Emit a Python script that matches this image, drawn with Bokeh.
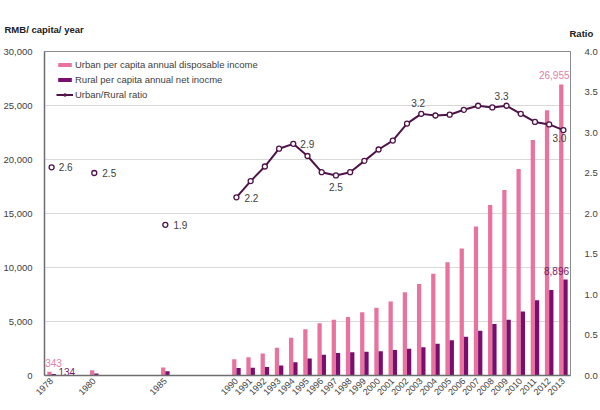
import math
from bokeh.plotting import figure
from bokeh.models import (FactorRange, Range1d, LinearAxis, NumeralTickFormatter,
                          Legend, LegendItem, ColumnDataSource, Label,
                          SingleIntervalTicker)
from bokeh.transform import dodge
from bokeh.core.properties import value
from bokeh.embed import file_html
from bokeh.resources import INLINE

# ---------------- data ----------------
years = ["1978", "1980", "1985"] + [str(y) for y in range(1990, 2014)]
urban = [343, 478, 739,
         1510, 1701, 2027, 2577, 3496, 4283, 4839, 5160, 5425, 5854, 6280, 6860,
         7703, 8472, 9422, 10493, 11760, 13786, 15781, 17175, 19109, 21810, 24565, 26955]
rural = [134, 191, 398,
         686, 709, 784, 922, 1221, 1578, 1926, 2090, 2162, 2210, 2253, 2366,
         2476, 2622, 2936, 3255, 3587, 4140, 4761, 5153, 5919, 6977, 7917, 8896]
ratio = [2.57, 2.50, 1.86,
         2.20, 2.40, 2.58, 2.80, 2.86, 2.71, 2.51, 2.47, 2.51, 2.65, 2.79, 2.90,
         3.11, 3.23, 3.21, 3.22, 3.28, 3.33, 3.31, 3.33, 3.23, 3.13, 3.10, 3.03]
series_names = ["Urban per capita annual disposable income",
                "Rural per capita annual net inocme",
                "Urban/Rural ratio"]
left_title = "RMB/ capita/ year"
right_title = "Ratio"

# empty category slots after some years (as in the original layout)
gaps_after = {"1978": 2, "1980": 4, "1985": 4}
factors = []
k = 0
for y in years:
    factors.append(y)
    for _ in range(gaps_after.get(y, 0)):
        k += 1
        factors.append(" " * k)

FONT = "Liberation Sans"
PINK = "#E8739F"
PURPLE = "#7A0E6F"
LINE = "#4E1249"
TXT = "#404040"

p = figure(width=600, height=410, x_range=FactorRange(*factors, range_padding=0),
           y_range=Range1d(0, 30000), output_backend="svg", toolbar_location=None,
           min_border_left=40, min_border_right=24, min_border_top=51, min_border_bottom=35)
p.extra_y_ranges = {"ratio": Range1d(0, 4)}
p.outline_line_color = "#8C8C8C"
p.background_fill_color = "white"

src = ColumnDataSource(dict(x=years, urban=urban, rural=rural, ratio=ratio))
line_src = ColumnDataSource(dict(x=years[3:], ratio=ratio[3:]))

ub = p.vbar(x=dodge("x", -0.15, range=p.x_range), top="urban", width=0.3, source=src,
            fill_color=PINK, line_color=None)
rb = p.vbar(x=dodge("x", 0.15, range=p.x_range), top="rural", width=0.3, source=src,
            fill_color=PURPLE, line_color=None)
ln = p.line(x="x", y="ratio", source=line_src, y_range_name="ratio",
            line_color=LINE, line_width=2)
sc = p.scatter(x="x", y="ratio", source=src, y_range_name="ratio", size=5,
               fill_color="white", line_color=LINE, line_width=1.3)

# axes
ax = p.yaxis[0]
ax.ticker = SingleIntervalTicker(interval=5000)
ax.formatter = NumeralTickFormatter(format="0,0")
right = LinearAxis(y_range_name="ratio", ticker=SingleIntervalTicker(interval=0.5),
                   formatter=NumeralTickFormatter(format="0.0"))
p.add_layout(right, "right")
for a in (ax, right):
    a.major_tick_line_color = None
    a.minor_tick_line_color = None
    a.major_tick_out = 0
    a.major_tick_in = 0
    a.axis_label_standoff = 0
    a.major_label_text_font = FONT
    a.major_label_text_font_size = "9.5px"
    a.major_label_text_color = TXT
ax.major_label_standoff = 8
right.major_label_standoff = 10
ax.axis_line_color = "#6E6E6E"
ax.axis_line_width = 1.5
right.axis_line_color = "#8C8C8C"

xa = p.xaxis[0]
xa.major_label_orientation = math.pi / 4
xa.major_tick_line_color = None
xa.minor_tick_line_color = None
xa.major_tick_out = 0
xa.axis_label_standoff = 0
xa.major_label_text_font = FONT
xa.major_label_text_font_size = "9px"
xa.major_label_text_color = TXT
xa.major_label_standoff = 4
xa.axis_line_color = "#6E6E6E"
xa.axis_line_width = 1.5

p.xgrid.grid_line_color = None
p.ygrid.grid_line_color = "#D9D9D9"

# value labels on bars
bar_idx = [0, len(years) - 1]
p.text(x=dodge("x", -0.15, range=p.x_range), y="y", text="t", x_offset="dx", y_offset="dy",
       source=ColumnDataSource(dict(x=[years[i] for i in bar_idx],
                                    y=[urban[i] for i in bar_idx],
                                    t=[f"{urban[i]:,}" for i in bar_idx],
                                    dx=[4, -7], dy=[-9, -9])),
       text_align="center", text_baseline="middle",
       text_font=value(FONT), text_font_size="10px", text_color="#E07FAE")
p.text(x=dodge("x", 0.15, range=p.x_range), y="y", text="t", x_offset="dx", y_offset="dy",
       source=ColumnDataSource(dict(x=[years[i] for i in bar_idx],
                                    y=[rural[i] for i in bar_idx],
                                    t=[f"{rural[i]:,}" for i in bar_idx],
                                    dx=[13, -9], dy=[-2, -8])),
       text_align="center", text_baseline="middle",
       text_font=value(FONT), text_font_size="10px", text_color="#6E1A6A")

# ratio labels
lab_years = ["1978", "1980", "1985", "1990", "1994", "1997", "2003", "2009", "2013"]
lab_vals = [ratio[years.index(y)] for y in lab_years]
p.text(x="x", y="y", text="t", y_range_name="ratio", x_offset="dx", y_offset="dy",
       source=ColumnDataSource(dict(x=lab_years, y=lab_vals,
                                    t=[f"{v:.1f}" for v in lab_vals],
                                    dx=[14, 15, 15, 15, 14, 0, -3, -5, -4],
                                    dy=[0, 0, 0, 1, 0, 12, -11, -10, 8])),
       text_align="center", text_baseline="middle",
       text_font=value(FONT), text_font_size="10px", text_color=TXT)

# legend
legend = Legend(items=[LegendItem(label=series_names[0], renderers=[ub]),
                       LegendItem(label=series_names[1], renderers=[rb]),
                       LegendItem(label=series_names[2], renderers=[ln, sc])],
                location=(12, 275), padding=0, margin=0, spacing=3,
                label_height=12, glyph_height=5, glyph_width=17, label_standoff=2,
                border_line_color=None, background_fill_alpha=0,
                label_text_font=FONT, label_text_font_size="9.5px", label_text_color=TXT)
p.add_layout(legend, "center")

# axis titles placed in the top panel
p.add_layout(Label(x=4, y=29, x_units="canvas", y_units="canvas", text=left_title,
                   text_font=FONT, text_font_size="9.5px", text_font_style="bold",
                   text_color="#202020", text_baseline="middle"), "above")
p.add_layout(Label(x=569, y=33, x_units="canvas", y_units="canvas", text=right_title,
                   text_font=FONT, text_font_size="9.5px", text_font_style="bold",
                   text_color="#202020", text_baseline="middle"), "above")

open("out.html", "w").write(file_html(p, INLINE))
